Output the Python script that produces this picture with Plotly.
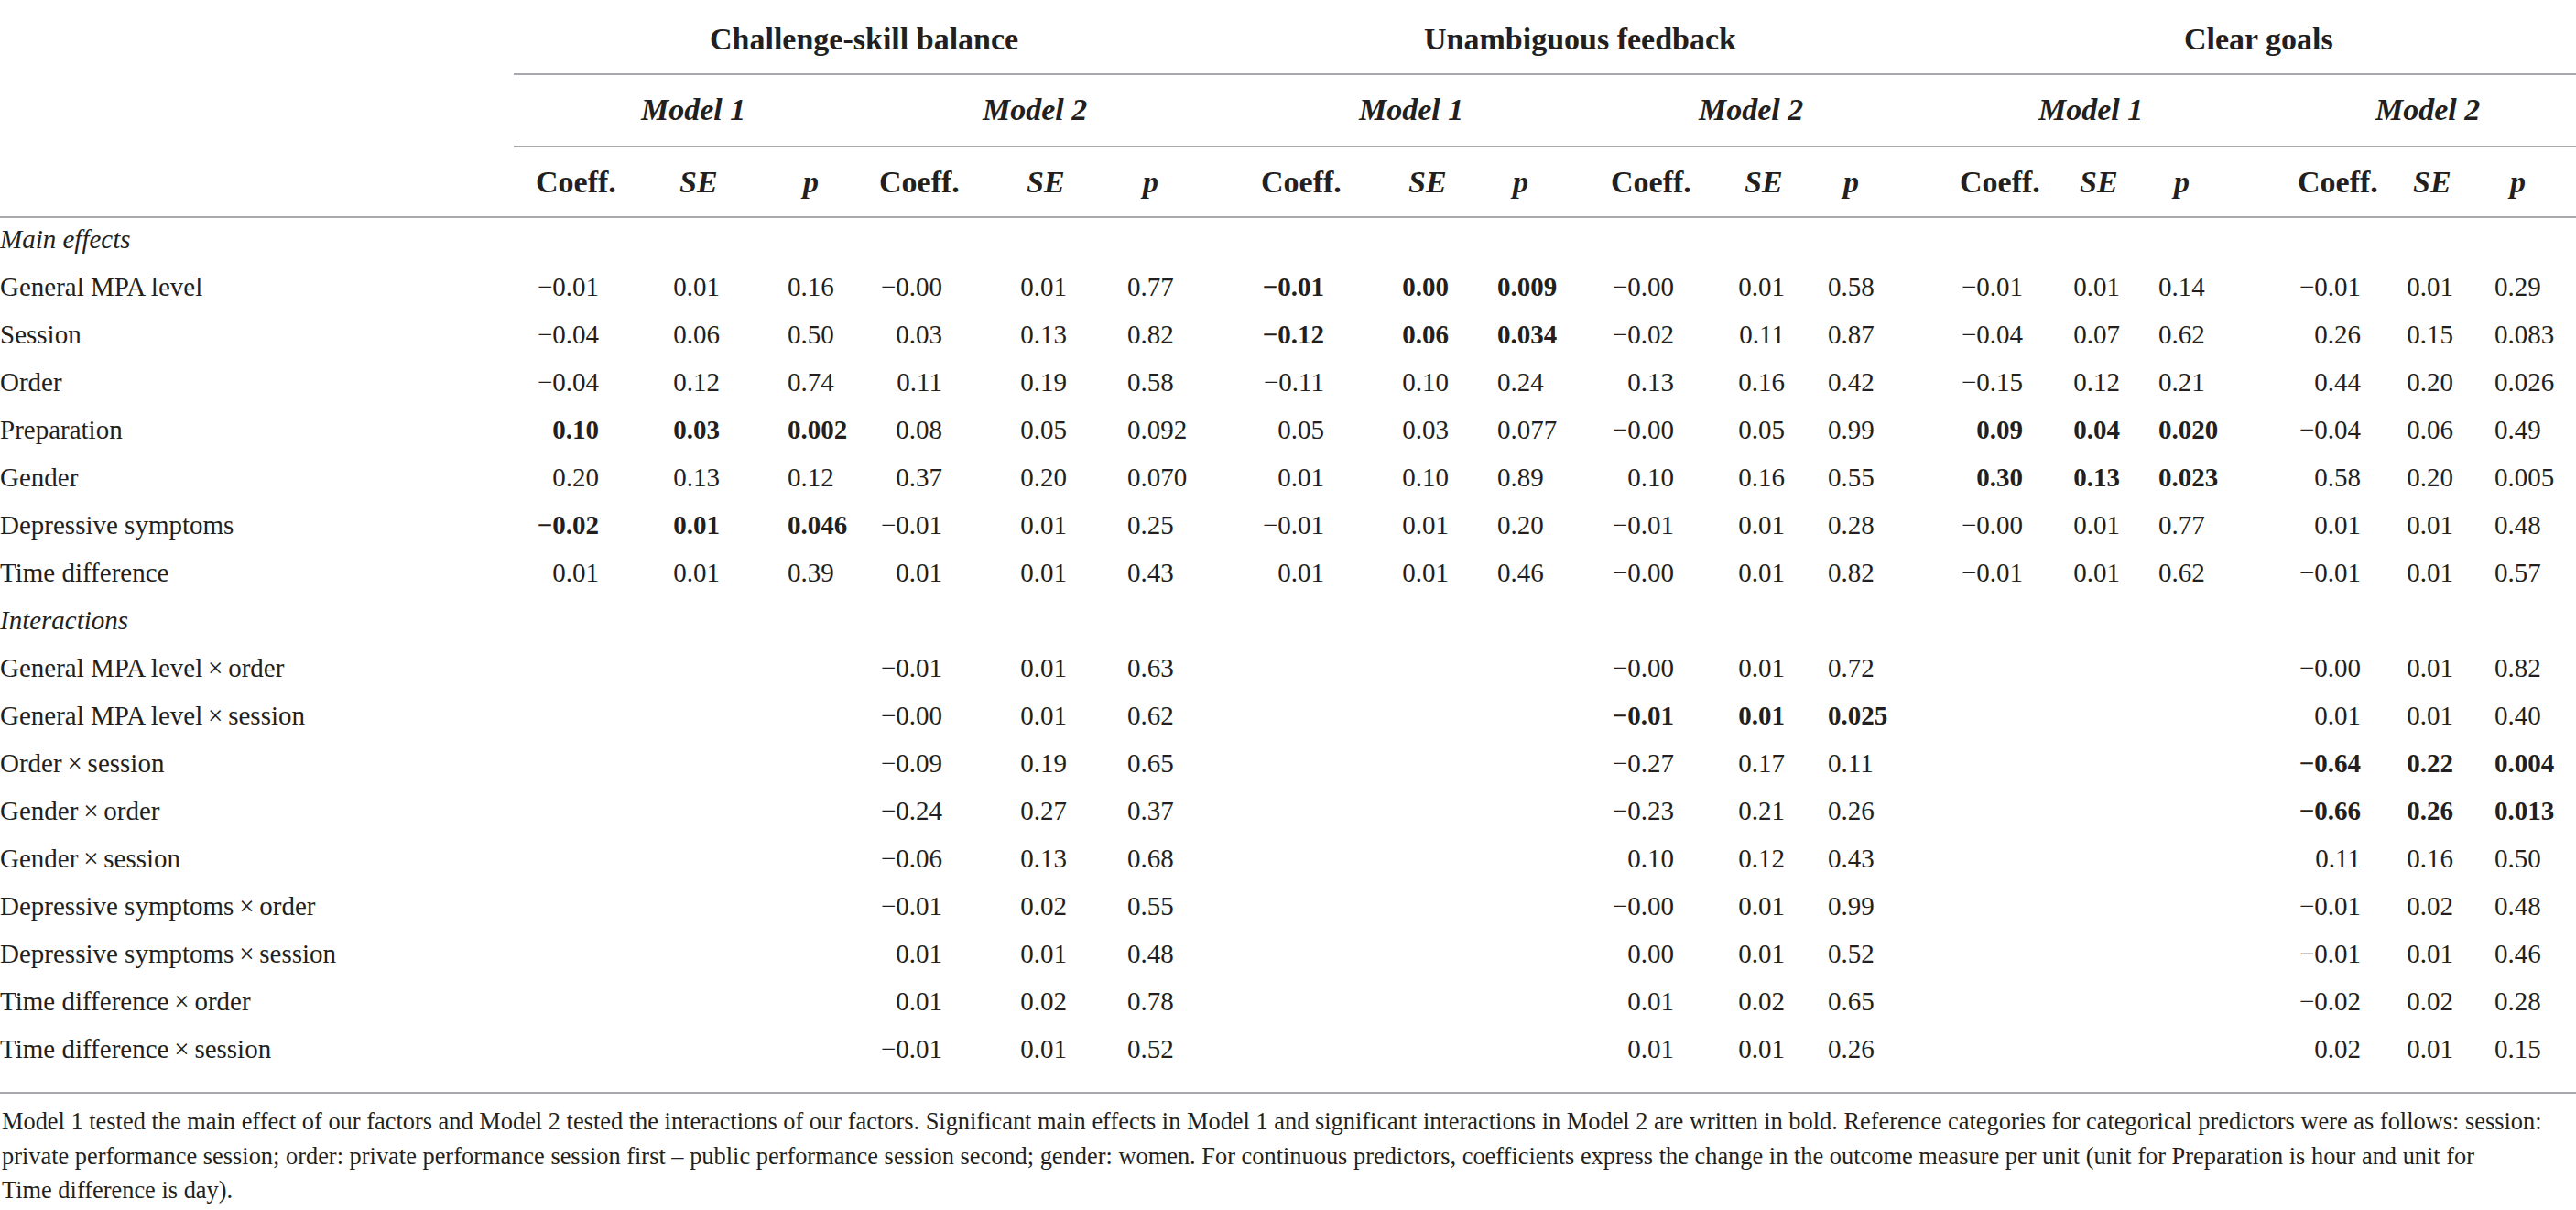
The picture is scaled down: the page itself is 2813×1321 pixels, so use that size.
import plotly.graph_objects as go

# Zeilen der Tabelle
main_effects = ["General MPA level", "Session", "Order", "Preparation", "Gender",
                "Depressive symptoms", "Time difference"]
interactions = ["General MPA level\u2009×\u2009order", "General MPA level\u2009×\u2009session",
                "Order\u2009×\u2009session", "Gender\u2009×\u2009order", "Gender\u2009×\u2009session",
                "Depressive symptoms\u2009×\u2009order", "Depressive symptoms\u2009×\u2009session",
                "Time difference\u2009×\u2009order", "Time difference\u2009×\u2009session"]

outcomes = ["Challenge-skill balance", "Unambiguous feedback", "Clear goals"]
models = ["Model 1", "Model 2"]
stat_labels = ["Coeff.", "SE", "p"]

# Challenge-skill balance
csb_m1_coef = ["−0.01", "−0.04", "−0.04", "0.10", "0.20", "−0.02", "0.01"]
csb_m1_se = ["0.01", "0.06", "0.12", "0.03", "0.13", "0.01", "0.01"]
csb_m1_p = ["0.16", "0.50", "0.74", "0.002", "0.12", "0.046", "0.39"]
csb_m1_bold = ["Preparation", "Depressive symptoms"]

csb_m2_coef = ["−0.00", "0.03", "0.11", "0.08", "0.37", "−0.01", "0.01",
               "−0.01", "−0.00", "−0.09", "−0.24", "−0.06", "−0.01", "0.01", "0.01", "−0.01"]
csb_m2_se = ["0.01", "0.13", "0.19", "0.05", "0.20", "0.01", "0.01",
             "0.01", "0.01", "0.19", "0.27", "0.13", "0.02", "0.01", "0.02", "0.01"]
csb_m2_p = ["0.77", "0.82", "0.58", "0.092", "0.070", "0.25", "0.43",
            "0.63", "0.62", "0.65", "0.37", "0.68", "0.55", "0.48", "0.78", "0.52"]
csb_m2_bold = []

# Unambiguous feedback
uf_m1_coef = ["−0.01", "−0.12", "−0.11", "0.05", "0.01", "−0.01", "0.01"]
uf_m1_se = ["0.00", "0.06", "0.10", "0.03", "0.10", "0.01", "0.01"]
uf_m1_p = ["0.009", "0.034", "0.24", "0.077", "0.89", "0.20", "0.46"]
uf_m1_bold = ["General MPA level", "Session"]

uf_m2_coef = ["−0.00", "−0.02", "0.13", "−0.00", "0.10", "−0.01", "−0.00",
              "−0.00", "−0.01", "−0.27", "−0.23", "0.10", "−0.00", "0.00", "0.01", "0.01"]
uf_m2_se = ["0.01", "0.11", "0.16", "0.05", "0.16", "0.01", "0.01",
            "0.01", "0.01", "0.17", "0.21", "0.12", "0.01", "0.01", "0.02", "0.01"]
uf_m2_p = ["0.58", "0.87", "0.42", "0.99", "0.55", "0.28", "0.82",
           "0.72", "0.025", "0.11", "0.26", "0.43", "0.99", "0.52", "0.65", "0.26"]
uf_m2_bold = ["General MPA level\u2009×\u2009session"]

# Clear goals
cg_m1_coef = ["−0.01", "−0.04", "−0.15", "0.09", "0.30", "−0.00", "−0.01"]
cg_m1_se = ["0.01", "0.07", "0.12", "0.04", "0.13", "0.01", "0.01"]
cg_m1_p = ["0.14", "0.62", "0.21", "0.020", "0.023", "0.77", "0.62"]
cg_m1_bold = ["Preparation", "Gender"]

cg_m2_coef = ["−0.01", "0.26", "0.44", "−0.04", "0.58", "0.01", "−0.01",
              "−0.00", "0.01", "−0.64", "−0.66", "0.11", "−0.01", "−0.01", "−0.02", "0.02"]
cg_m2_se = ["0.01", "0.15", "0.20", "0.06", "0.20", "0.01", "0.01",
            "0.01", "0.01", "0.22", "0.26", "0.16", "0.02", "0.01", "0.02", "0.01"]
cg_m2_p = ["0.29", "0.083", "0.026", "0.49", "0.005", "0.48", "0.57",
           "0.82", "0.40", "0.004", "0.013", "0.50", "0.48", "0.46", "0.28", "0.15"]
cg_m2_bold = ["Order\u2009×\u2009session", "Gender\u2009×\u2009order"]

footnote = [
    "Model 1 tested the main effect of our factors and Model 2 tested the interactions of our factors. "
    "Significant main effects in Model 1 and significant interactions in Model 2 are written in bold. "
    "Reference categories for categorical predictors were as follows: session:",
    "private performance session; order: private performance session first – public performance session second; "
    "gender: women. For continuous predictors, coefficients express the change in the outcome measure per unit "
    "(unit for Preparation is hour and unit for",
    "Time difference is day).",
]

# Layout (Pixel-Koordinaten)
W, H = 2813, 1321
FONT = "Liberation Serif"
INK = "#231f20"
RULE = "#a7a9ac"
body_size = 29
head_size = 34
foot_size = 26.4

row_top, row_step = 264, 52
y_outcome, y_model, y_stat = 42, 119, 198
rules = [(561, 81), (561, 160), (0, 237), (0, 1193)]
foot_y = [1224, 1262, 1299]

# rechte Kante Coeff., rechte Kante SE, linke Kante p
blocks = [
    (csb_m1_coef, csb_m1_se, csb_m1_p, csb_m1_bold, (654, 786, 860)),
    (csb_m2_coef, csb_m2_se, csb_m2_p, csb_m2_bold, (1029, 1165, 1231)),
    (uf_m1_coef, uf_m1_se, uf_m1_p, uf_m1_bold, (1446, 1582, 1635)),
    (uf_m2_coef, uf_m2_se, uf_m2_p, uf_m2_bold, (1828, 1949, 1996)),
    (cg_m1_coef, cg_m1_se, cg_m1_p, cg_m1_bold, (2209, 2315, 2357)),
    (cg_m2_coef, cg_m2_se, cg_m2_p, cg_m2_bold, (2578, 2679, 2724)),
]

rows = ["Main effects"] + main_effects + ["Interactions"] + interactions
row_y = {name: row_top + i * row_step for i, name in enumerate(rows)}
model_rows = main_effects + interactions

fig = go.Figure()

# Zeilenbeschriftungen
fig.add_trace(go.Scatter(
    x=[0] * len(rows), y=[row_y[r] for r in rows],
    text=[f"<i>{r}</i>" if r in ("Main effects", "Interactions") else r for r in rows],
    mode="text", textposition="middle right",
    textfont=dict(family=FONT, size=body_size, color=INK),
    hoverinfo="skip", cliponaxis=False))

annotations = []
model_centers = []
for coef, se, p, bold, (coef_x, se_x, p_x) in blocks:
    names = model_rows[:len(coef)]
    ys = [row_y[n] for n in names]

    def fmt(vals):
        return [f"<b>{v}</b>" if n in bold else v for v, n in zip(vals, names)]

    for vals, x, pos in [(coef, coef_x, "middle left"), (se, se_x, "middle left"), (p, p_x, "middle right")]:
        fig.add_trace(go.Scatter(
            x=[x] * len(vals), y=ys, text=fmt(vals),
            mode="text", textposition=pos,
            textfont=dict(family=FONT, size=body_size, color=INK),
            hoverinfo="skip", cliponaxis=False))

    centers = [coef_x - 25, se_x - 23, p_x + 24]
    for lab, cx in zip(stat_labels, centers):
        txt = "<b>Coeff.</b>" if lab == "Coeff." else f"<b><i>{lab}</i></b>"
        annotations.append(dict(x=cx, y=y_stat, text=txt, showarrow=False,
                                xanchor="center", yanchor="middle",
                                font=dict(family=FONT, size=head_size, color=INK)))
    model_centers.append((centers[0] + centers[2]) / 2)

for i, mc in enumerate(model_centers):
    annotations.append(dict(x=mc, y=y_model, text=f"<b><i>{models[i % 2]}</i></b>", showarrow=False,
                            xanchor="center", yanchor="middle",
                            font=dict(family=FONT, size=head_size, color=INK)))

for j, name in enumerate(outcomes):
    cx = (model_centers[2 * j] + model_centers[2 * j + 1]) / 2
    annotations.append(dict(x=cx, y=y_outcome, text=f"<b>{name}</b>", showarrow=False,
                            xanchor="center", yanchor="middle",
                            font=dict(family=FONT, size=head_size, color=INK)))

for line, fy in zip(footnote, foot_y):
    annotations.append(dict(x=0, y=fy, text=line, showarrow=False,
                            xanchor="left", yanchor="middle",
                            font=dict(family=FONT, size=foot_size, color=INK)))

shapes = [dict(type="line", x0=x0, x1=W, y0=y, y1=y, xref="x", yref="y",
               line=dict(color=RULE, width=2)) for x0, y in rules]

fig.update_layout(
    width=W, height=H,
    margin=dict(l=0, r=0, t=0, b=0),
    paper_bgcolor="white", plot_bgcolor="white",
    showlegend=False,
    xaxis=dict(range=[0, W], visible=False, fixedrange=True),
    yaxis=dict(range=[H, 0], visible=False, fixedrange=True),
    annotations=annotations,
    shapes=shapes,
)

fig.write_html("out.html",
               config={"displayModeBar": False},
               post_script="document.body.style.margin='0';document.body.style.overflow='hidden';")
